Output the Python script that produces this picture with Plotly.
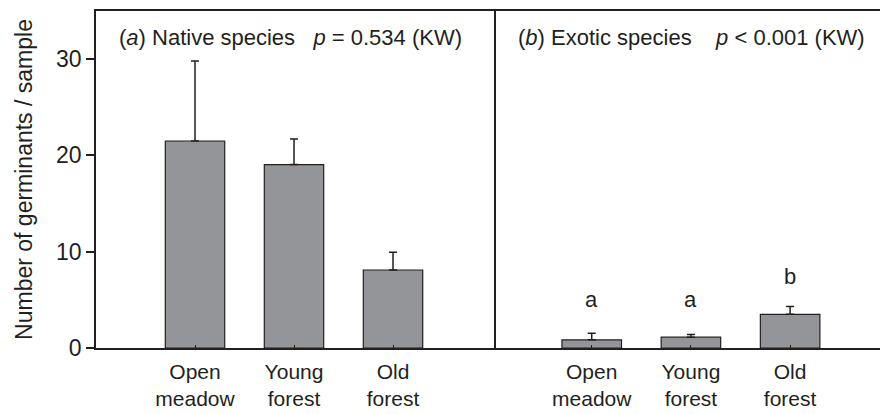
import plotly.graph_objects as go

categories = ["Open<br>meadow", "Young<br>forest", "Old<br>forest"]
native_mean = [21.5, 19.05, 8.1]
native_err = [8.3, 2.65, 1.85]
exotic_mean = [0.85, 1.12, 3.5]
exotic_err = [0.68, 0.27, 0.8]
exotic_letters = ["a", "a", "b"]
letter_y = [5.0, 5.0, 7.4]
yticks = [0, 10, 20, 30]

FONT = "Liberation Sans, Arial, Helvetica, sans-serif"
INK = "#231f20"
BAR = "#939598"
W, H = 880, 414
L, R, T, B = 96, 0, 11, 66
xdiv = 494

fig = go.Figure()
for mean, err, xa in [(native_mean, native_err, "x"), (exotic_mean, exotic_err, "x2")]:
    fig.add_trace(go.Bar(
        x=categories, y=mean, xaxis=xa, yaxis="y", width=0.6,
        marker=dict(color=BAR, line=dict(color=INK, width=1.2)),
        error_y=dict(type="data", symmetric=False, array=err,
                     arrayminus=[0] * len(err), color=INK, thickness=1.5, width=4),
        showlegend=False, hoverinfo="skip",
    ))

for cat, lab, ly in zip(categories, exotic_letters, letter_y):
    fig.add_annotation(x=cat, y=ly, xref="x2", yref="y", text=lab, showarrow=False,
                       font=dict(family=FONT, size=22, color=INK), yanchor="middle")

plot_h = H - T - B
ty = (H - B - 37) / plot_h
fig.add_annotation(xref="paper", yref="paper", x=(117 - L) / (W - L), y=ty,
                   xanchor="left", yanchor="middle", showarrow=False,
                   text="(<i>a</i>) Native species\u00a0\u00a0\u00a0<i>p</i> = 0.534 (KW)",
                   font=dict(family=FONT, size=22, color=INK))
fig.add_annotation(xref="paper", yref="paper", x=(516 - L) / (W - L), y=ty,
                   xanchor="left", yanchor="middle", showarrow=False,
                   text="(<i>b</i>) Exotic species\u00a0\u00a0\u00a0\u00a0<i>p</i> < 0.001 (KW)",
                   font=dict(family=FONT, size=22, color=INK))

d = (xdiv - L) / (W - L)
axis_common = dict(showline=True, linecolor=INK, linewidth=1.8, mirror=True,
                   showgrid=False, zeroline=False, automargin=False,
                   ticks="inside", ticklen=3, tickcolor=INK, tickwidth=1.2,
                   ticklabelstandoff=4,
                   tickfont=dict(family=FONT, size=21, color=INK))
fig.update_layout(
    width=W, height=H,
    margin=dict(l=L, r=R, t=T, b=B, pad=0, autoexpand=False),
    paper_bgcolor="white", plot_bgcolor="white",
    xaxis=dict(domain=[0, d], range=[-1.0, 3.02], anchor="y", **axis_common),
    xaxis2=dict(domain=[d, 1], range=[-0.985, 2.906], anchor="y", **axis_common),
    yaxis=dict(range=[0, 35], anchor="x", showline=True, linecolor=INK, linewidth=1.8,
               mirror=True, showgrid=False, zeroline=False, automargin=False,
               tickvals=yticks, ticks="outside", ticklen=8, tickcolor=INK, tickwidth=1.8,
               tickfont=dict(family=FONT, size=23, color=INK),
               title=dict(text="Number of germinants / sample", standoff=17,
                          font=dict(family=FONT, size=23, color=INK))),
    bargap=0.4,
)

fig.write_html("out.html")
